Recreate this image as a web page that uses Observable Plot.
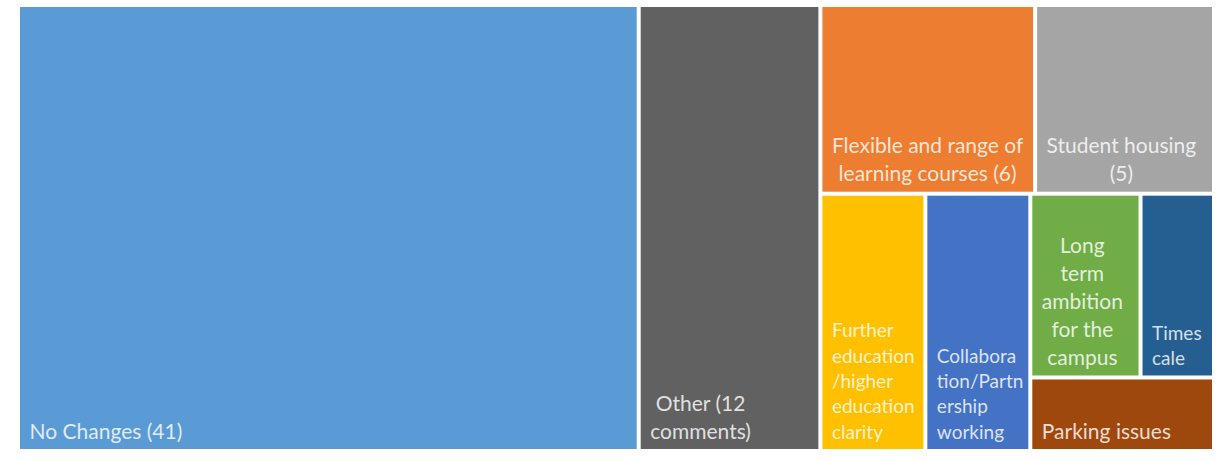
<!DOCTYPE html>
<html><head><meta charset="utf-8">
<script src="https://cdn.jsdelivr.net/npm/d3@7"></script>
<script src="https://cdn.jsdelivr.net/npm/@observablehq/plot@0.6"></script>
<style>body{margin:0;background:#fff;overflow:hidden}</style>
</head><body><div id="chart"></div>
<script>
// ---- data ----
const categories = [
  "No Changes", "Other", "Flexible and range of learning courses", "Student housing",
  "Further education/higher education clarity", "Collaboration/Partnership working",
  "Long term ambition for the campus", "Timescale", "Parking issues"
];
const counts = [41, 12, 6, 5, 4, 4, 3, 2, 2];
const labels = [
  "No Changes (41)", "Other (12\ncomments)", "Flexible and range of\nlearning courses (6)",
  "Student housing\n(5)", "Further\neducation\n/higher\neducation\nclarity",
  "Collabora\ntion/Partn\nership\nworking", "Long\nterm\nambition\nfor the\ncampus",
  "Times\ncale", "Parking issues"
];
const colors = ["#5B9BD5", "#616161", "#ED7D31", "#A5A5A5", "#FFC000", "#4472C4", "#70AD47", "#255E91", "#9E480E"];
// treemap grouping (nesting of the tiles, as in the reference)
const groups = ["", "", "A/T", "A/T", "A/B", "A/B", "A/B/C/L", "A/B/C/L", "A/B/C"];
// labels whose lines are centred relative to each other
const centredBlock = new Set(["Other", "Flexible and range of learning courses", "Student housing", "Long term ambition for the campus"]);
// narrow tiles use a smaller label font
const smallLabel = new Set(["Further education/higher education clarity", "Collaboration/Partnership working", "Timescale"]);

// ---- build hierarchy ----
const root = {name: "root", children: []};
categories.forEach((c, i) => {
  let node = root;
  if (groups[i]) for (const g of groups[i].split("/")) {
    let child = node.children.find(n => n.name === g && n.children);
    if (!child) { child = {name: g, children: []}; node.children.push(child); }
    node = child;
  }
  node.children.push({name: c, value: counts[i], label: labels[i], color: colors[i]});
});

const W = 1192, H = 442;
const h = d3.hierarchy(root).sum(d => d.value || 0);
d3.treemap().tile(d3.treemapSliceDice).size([W, H]).paddingInner(4)(h);
const leaves = h.leaves();

const FONT = "Lato";
const fs = d => smallLabel.has(d.data.name) ? 19 : 21;
const ctx = document.createElement("canvas").getContext("2d");
function blockWidth(d) {
  ctx.font = `${fs(d)}px ${FONT}`;
  return d3.max(d.data.label.split("\n"), l => ctx.measureText(l).width);
}
const PAD = 9, BPAD = 11;
const startLeaves = leaves.filter(d => !centredBlock.has(d.data.name));
const blockLeaves = leaves.filter(d => centredBlock.has(d.data.name));

const textOpts = {
  y: d => d.y1 - BPAD,
  text: d => d.data.label,
  lineAnchor: "bottom",
  lineHeight: 1.33,
  fill: "white",
  fillOpacity: 0.82,
  fontSize: fs,
  fontFamily: FONT
};

const chart = Plot.plot({
  width: 1225,
  height: 461,
  x: {domain: [0, W], range: [20, 20 + W], axis: null},
  y: {domain: [0, H], range: [7, 7 + H], axis: null},
  color: {type: "identity"},
  style: {background: "white"},
  marks: [
    Plot.rect(leaves, {x1: d => d.x0, x2: d => d.x1, y1: d => d.y0, y2: d => d.y1, fill: d => d.data.color}),
    Plot.text(startLeaves, {...textOpts, x: d => d.x0 + PAD, textAnchor: "start"}),
    Plot.text(blockLeaves, {...textOpts, x: d => d.x0 + PAD + blockWidth(d) / 2, textAnchor: "middle"})
  ]
});
document.getElementById("chart").appendChild(chart);
</script>
</body></html>
